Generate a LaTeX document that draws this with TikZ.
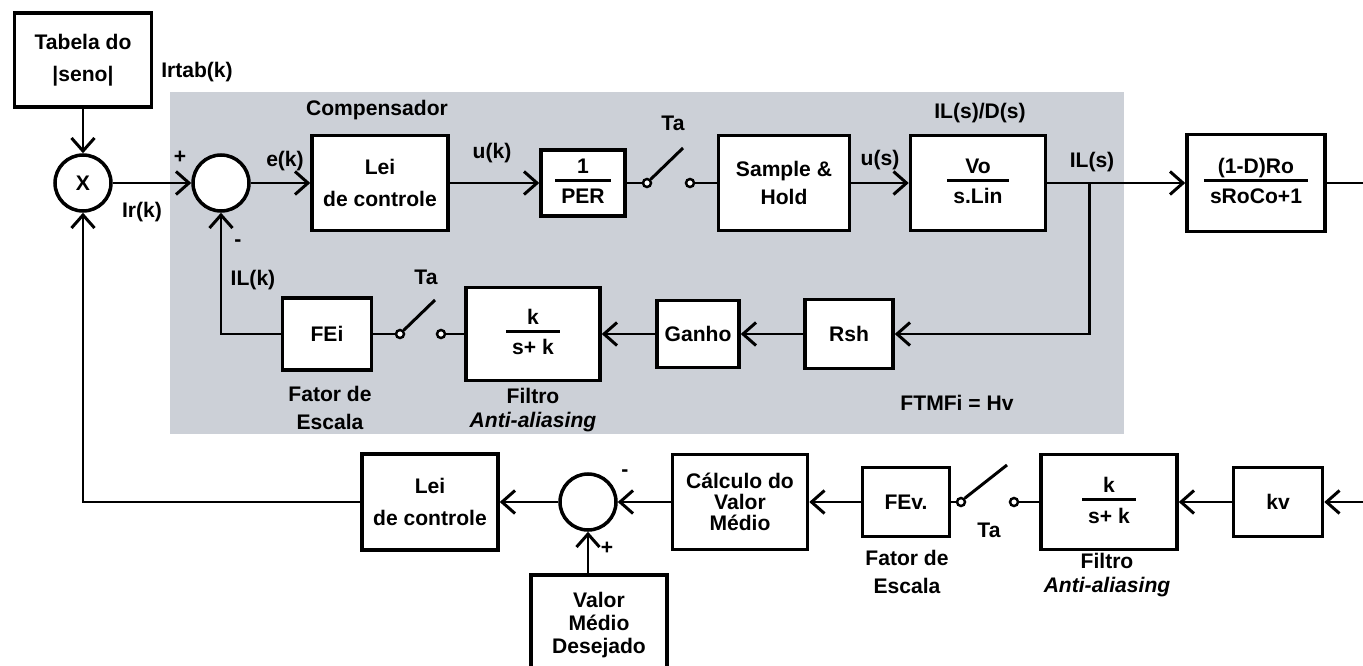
\documentclass[tikz,border=0pt]{standalone}
\usepackage{fontspec}
\setmainfont{Liberation Sans}
\usetikzlibrary{arrows.meta}
\definecolor{panel}{RGB}{204,208,215}
\setlength{\arrayrulewidth}{1.6pt}
\newcommand{\blkfrac}[2]{\begin{tabular}{@{\hspace{3.5pt}}c@{\hspace{3.5pt}}}#1\\[-2.2pt]\hline\rule{0pt}{12.6pt}#2\end{tabular}}

\begin{document}
\begin{tikzpicture}[
  x=0.02cm, y=-0.02cm,
  lead/.style={font=\bfseries\fontsize{12}{#1}\selectfont},
  lab/.style={lead=17, align=center, inner sep=0pt},
  dims/.style 2 args={minimum width=#1*0.02cm, minimum height=#2*0.02cm},
  blk/.style={lab, draw, line width=2pt, fill=white},
  sumnode/.style={lab, circle, draw, line width=2pt, fill=white, minimum size=56*0.02cm},
  contact/.style={circle, draw, line width=1.4pt, fill=white, inner sep=0pt, minimum size=8*0.02cm},
  sig/.style={-{Straight Barb[length=2.6mm,width=4.6mm]}, line width=1.7pt},
  wire/.style={line width=1.7pt}
]
\clip (0,0) rectangle (1363,666);

% Shaded panel of the current loop.
\fill[panel] (170,92) rectangle (1124,434);

% Reference generator.
\node[blk, dims={137}{94}, lead=18] (tab) at (83,60) {Tabela do\\|seno|};
\node[sumnode] (mult) at (83,183) {X};
\node[lab] at (197,72) {Irtab(k)};
\node[lab] at (142,212) {Ir(k)};

% Current loop, forward path.
\node[sumnode] (sum1) at (221,183) {};
\node[blk, dims={136}{95}, lead=18] (lei1) at (380,183) {Lei\\de controle};
\node[blk, dims={84}{66}] (per) at (583,183) {\blkfrac{1}{PER}};
\node[contact] (s1a) at (647,183) {};
\node[contact] (s1b) at (690,183) {};
\coordinate (s1arm) at (683,148);
\node[blk, dims={131}{95}, lead=16] (sh) at (784,183) {Sample \&\\Hold};
\node[blk, dims={135}{95}] (vo) at (978,183) {\blkfrac{Vo}{s.Lin}};
\node[blk, dims={138}{97}] (roco) at (1256,183) {\blkfrac{(1-D)Ro}{sRoCo+1}};
\coordinate (tap) at (1089,183);
\coordinate (outR) at (1363,183);

\node[lab] at (180,157) {+};
\node[lab] at (285,161) {e(k)};
\node[lab] at (377,110) {Compensador};
\node[lab] at (492,153) {u(k)};
\node[lab] at (673,123) {Ta};
\node[lab] at (880,160) {u(s)};
\node[lab] at (980,113) {IL(s)/D(s)};
\node[lab] at (1092,162) {IL(s)};

% Current loop, feedback path.
\node[blk, dims={88}{69}] (rsh) at (849,334) {Rsh};
\node[blk, dims={82}{67}] (ganho) at (698,334) {Ganho};
\node[blk, dims={134}{93}] (filt1) at (533,334) {\blkfrac{k}{s+ k}};
\node[contact] (s2b) at (441,334) {};
\node[contact] (s2a) at (400,334) {};
\coordinate (s2arm) at (435,300);
\node[blk, dims={89}{72}] (fei) at (327,334) {FEi};

\node[lab] at (238,243) {-};
\node[lab] at (253,280) {IL(k)};
\node[lab] at (426,277) {Ta};
\node[lab, lead=16] at (330,408) {Fator de\\Escala};
\node[lab, lead=14] at (533,410) {Filtro\\\textit{Anti-aliasing}};
\node[lab] at (957,403) {FTMFi = Hv};

% Voltage loop.
\coordinate (inR) at (1363,502);
\node[blk, dims={89}{69}] (kv) at (1278,502) {kv};
\node[blk, dims={136}{95}] (filt2) at (1109,502) {\blkfrac{k}{s+ k}};
\node[contact] (s3b) at (1014,502) {};
\node[contact] (s3a) at (961,502) {};
\coordinate (s3arm) at (1007,465);
\node[blk, dims={87}{69}] (fev) at (906,502) {FEv.};
\node[blk, dims={135}{95}, lead=12] (calc) at (740,502) {Cálculo do\\Valor\\Médio};
\node[sumnode] (sum2) at (588,502) {};
\node[blk, dims={136}{96}, lead=18] (lei2) at (430,502) {Lei\\de controle};
\node[blk, dims={136}{100}, lead=13] (valor) at (599,625) {Valor\\Médio\\Desejado};

\node[lab] at (625,473) {-};
\node[lab] at (607,548) {+};
\node[lab] at (989,530) {Ta};
\node[lab, lead=16] at (907,572) {Fator de\\Escala};
\node[lab, lead=14] at (1107,575) {Filtro\\\textit{Anti-aliasing}};

% Connectors, current loop.
\draw[sig] (tab) -- (mult);
\draw[sig] (mult) -- (sum1);
\draw[sig] (sum1) -- (lei1);
\draw[sig] (lei1) -- (per);
\draw[wire] (per) -- (s1a);
\draw[wire] (s1a.north east) -- (s1arm);
\draw[wire] (s1b) -- (sh);
\draw[sig] (sh) -- (vo);
\draw[sig] (vo) -- (roco);
\draw[wire] (roco) -- (outR);
\draw[sig] (tap) |- (rsh);
\draw[sig] (rsh) -- (ganho);
\draw[sig] (ganho) -- (filt1);
\draw[wire] (filt1) -- (s2b);
\draw[wire] (s2a.north east) -- (s2arm);
\draw[wire] (s2a) -- (fei);
\draw[sig] (fei.west) -| (sum1.south);

% Connectors, voltage loop.
\draw[sig] (inR) -- (kv);
\draw[sig] (kv) -- (filt2);
\draw[wire] (filt2) -- (s3b);
\draw[wire] (s3a.north east) -- (s3arm);
\draw[wire] (s3a) -- (fev);
\draw[sig] (fev) -- (calc);
\draw[sig] (calc) -- (sum2);
\draw[sig] (valor.north -| sum2.south) -- (sum2.south);
\draw[sig] (sum2) -- (lei2);
\draw[sig] (lei2.west) -| (mult.south);

\end{tikzpicture}
\end{document}
